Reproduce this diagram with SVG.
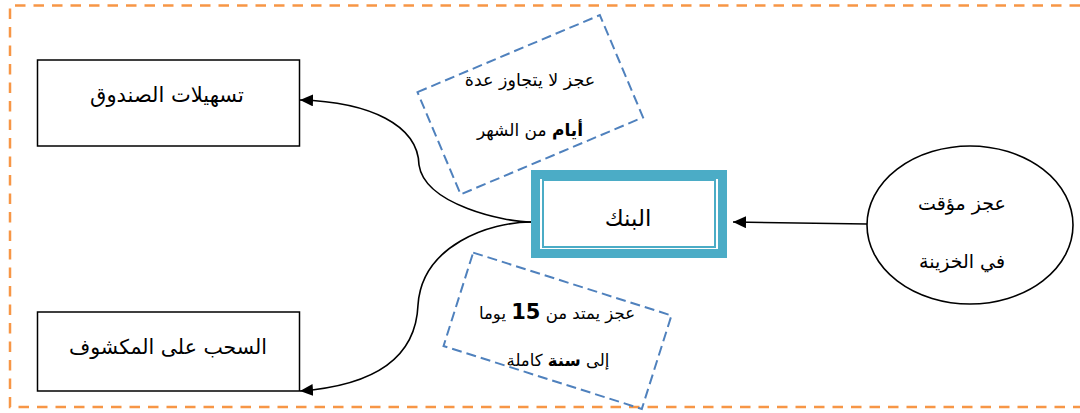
<svg xmlns="http://www.w3.org/2000/svg" width="1080" height="413" viewBox="0 0 1080 413">
  <style>
    .frame { fill: none; stroke: #F79646; stroke-width: 2.5; stroke-dasharray: 10.5 8; }
    .note { fill: none; stroke: #4F81BD; stroke-width: 2; stroke-dasharray: 10 5; }
    .box { fill: #fff; stroke: #000; stroke-width: 1.5; }
    .link { fill: none; stroke: #000; stroke-width: 1.6; }
    .lbl { font-family: "DejaVu Sans", sans-serif; font-size: 17px; fill: #000; text-anchor: middle; }
    .b { font-weight: bold; }
  </style>
  <defs>
    <marker id="head" viewBox="0 0 13 12" refX="13" refY="6" markerWidth="13" markerHeight="12" markerUnits="userSpaceOnUse" orient="auto">
      <path d="M0,0 L13,6 L0,12 Z" fill="#000"/>
    </marker>
  </defs>
  <rect width="1080" height="413" fill="#fff"/>

  <!-- outer dashed frame, open on the right -->
  <path class="frame" d="M1080,5.5 H10 V407 H1080"/>

  <!-- connectors -->
  <g id="connectors">
    <path class="link" d="M867,224 L733,222" marker-end="url(#head)"/>
    <path class="link" d="M531,222 C505,222 425,205 419,165 C418,125 370,102 300,100" marker-end="url(#head)"/>
    <path class="link" d="M531,222 C490,222 422,245 418,305 C416,355 380,385 300,391" marker-end="url(#head)"/>
  </g>

  <g id="note-top">
    <rect class="note" x="-99" y="-55.5" width="198" height="111" transform="translate(530.25,104.75) rotate(-22.9)"/>
    <text class="lbl" x="530" y="86" direction="rtl" style="font-size:17.5px">عجز لا يتجاوز عدة</text>
    <text class="lbl" x="530" y="136" direction="rtl" style="font-size:17px"><tspan class="b">أيام</tspan> من الشهر</text>
  </g>

  <g id="note-bottom">
    <rect class="note" x="-104" y="-49" width="208" height="98" transform="translate(557.5,330.75) rotate(17.6)"/>
    <text class="lbl" x="557" y="319" direction="rtl" style="font-size:16.5px">عجز يمتد من <tspan class="b" style="font-size:21px">15</tspan> يوما</text>
    <text class="lbl" x="558" y="366" direction="rtl" style="font-size:16.5px">إلى <tspan class="b">سنة</tspan> كاملة</text>
  </g>

  <g id="node-facilities">
    <rect class="box" x="37.5" y="60" width="262" height="86"/>
    <text class="lbl" x="167" y="102" direction="rtl" style="font-size:21px">تسهيلات الصندوق</text>
  </g>

  <g id="node-overdraft">
    <rect class="box" x="37.5" y="312" width="262" height="79"/>
    <text class="lbl" x="168" y="354" direction="rtl" style="font-size:20.5px">السحب على المكشوف</text>
  </g>

  <g id="node-bank">
    <rect x="535.5" y="174.5" width="187" height="79" fill="#fff" stroke="#4BACC6" stroke-width="9"/>
    <rect x="543" y="180" width="172" height="67" fill="none" stroke="#4BACC6" stroke-width="2"/>
    <text class="lbl" x="628" y="226" direction="rtl" style="font-size:23px">البنك</text>
  </g>

  <g id="node-deficit">
    <ellipse cx="970" cy="225" rx="103" ry="79" fill="#fff" stroke="#000" stroke-width="1.6"/>
    <text class="lbl" x="962" y="210" direction="rtl" style="font-size:19px">عجز مؤقت</text>
    <text class="lbl" x="962" y="268" direction="rtl" style="font-size:19px">في الخزينة</text>
  </g>
</svg>
